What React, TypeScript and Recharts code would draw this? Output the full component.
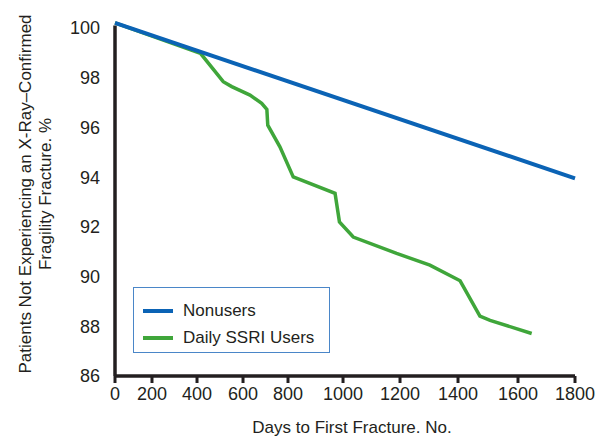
import React from 'react';
import { LineChart, Line, XAxis, YAxis, Legend, Label, ReferenceLine } from 'recharts';

// ---- data ----
const X_TICKS = [0, 200, 400, 600, 800, 1000, 1200, 1400, 1600, 1800];
const Y_TICKS = [86, 88, 90, 92, 94, 96, 98, 100];
const SERIES_NAMES = ['Nonusers', 'Daily SSRI Users'];

const nonusersDays = [0, 1800];
const nonusersPct = [100.2, 93.95];

const ssriDays = [0, 415, 514, 551, 631, 683, 706, 710, 764, 819, 971, 987, 1036, 1188, 1303, 1407, 1473, 1507, 1648];
const ssriPct = [100.2, 98.98, 97.84, 97.64, 97.3, 96.97, 96.72, 96.09, 95.22, 94.01, 93.35, 92.2, 91.59, 90.93, 90.46, 89.83, 88.41, 88.24, 87.71];

const nonusersData = nonusersDays.map((d, i) => ({ day: d, pct: nonusersPct[i] }));
const ssriData = ssriDays.map((d, i) => ({ day: d, pct: ssriPct[i] }));

// ---- axis layout: the original figure's x axis is not evenly spaced ----
const X_TICK_FRACTIONS = [0, 0.0804, 0.1783, 0.2783, 0.3761, 0.4957, 0.6196, 0.7457, 0.8761, 1];

function makePiecewiseScale(): any {
  let domain: number[] = [X_TICKS[0], X_TICKS[X_TICKS.length - 1]];
  let range: number[] = [0, 1];
  const t = X_TICKS;
  const f = X_TICK_FRACTIONS;
  const toFrac = (v: number) => {
    if (v <= t[0]) return f[0] + ((v - t[0]) / (t[1] - t[0])) * (f[1] - f[0]);
    for (let i = 1; i < t.length; i++) {
      if (v <= t[i]) return f[i - 1] + ((v - t[i - 1]) / (t[i] - t[i - 1])) * (f[i] - f[i - 1]);
    }
    const n = t.length - 1;
    return f[n] + ((v - t[n]) / (t[n] - t[n - 1])) * (f[n] - f[n - 1]);
  };
  const fromFrac = (q: number) => {
    for (let i = 1; i < f.length; i++) {
      if (q <= f[i]) return t[i - 1] + ((q - f[i - 1]) / (f[i] - f[i - 1])) * (t[i] - t[i - 1]);
    }
    return t[t.length - 1];
  };
  const scale: any = (v: number) => range[0] + toFrac(Number(v)) * (range[1] - range[0]);
  scale.domain = (d?: number[]) => {
    if (d === undefined) return domain.slice();
    domain = d.slice();
    return scale;
  };
  scale.range = (r?: number[]) => {
    if (r === undefined) return range.slice();
    range = r.slice();
    return scale;
  };
  scale.copy = () => {
    const s = makePiecewiseScale();
    s.domain(domain);
    s.range(range);
    return s;
  };
  scale.ticks = () => X_TICKS.slice();
  scale.tickFormat = () => (v: any) => String(v);
  scale.invert = (px: number) => fromFrac((px - range[0]) / (range[1] - range[0]));
  scale.nice = () => scale;
  scale.clamp = () => scale;
  return scale;
}

const xScale = makePiecewiseScale();

const FONT = '"Liberation Sans", Arial, Helvetica, sans-serif';
const INK = '#231f20';
const BLUE = '#0b63b5';
const GREEN = '#3fa63a';

const YTitle = (props: any) => {
  const vb = props.viewBox || { x: 0, y: 18, width: 115, height: 358 };
  const cy = vb.y + vb.height / 2 - 3;
  const x1 = vb.x + 25;
  const x2 = vb.x + 45;
  return (
    <g fontFamily={FONT} fontSize={17} fill={INK}>
      <text x={x1} y={cy} transform={`rotate(-90, ${x1}, ${cy})`} textAnchor="middle" dominantBaseline="central">
        Patients Not Experiencing an X-Ray–Confirmed
      </text>
      <text x={x2} y={cy} transform={`rotate(-90, ${x2}, ${cy})`} textAnchor="middle" dominantBaseline="central">
        Fragility Fracture. %
      </text>
    </g>
  );
};

const XTitle = (props: any) => {
  const vb = props.viewBox || { x: 115, y: 376, width: 460, height: 63 };
  return (
    <text x={vb.x + vb.width / 2 + 7} y={vb.y + 57} textAnchor="middle" fontFamily={FONT} fontSize={17} fill={INK}>
      Days to First Fracture. No.
    </text>
  );
};

const LegendBox = (props: any) => {
  const payload = [...(props.payload || [])].sort(
    (a: any, b: any) => SERIES_NAMES.indexOf(a.value) - SERIES_NAMES.indexOf(b.value)
  );
  return (
    <div
      style={{
        boxSizing: 'border-box',
        width: 197,
        height: 66,
        border: '1.6px solid #4a86c8',
        background: '#fff',
        padding: '9px 0 0 9px',
        fontFamily: FONT,
        fontSize: 17,
        color: INK,
      }}
    >
      {payload.map((p: any) => (
        <div key={p.value} style={{ display: 'flex', alignItems: 'center', height: 27.5 }}>
          <div style={{ width: 30, height: 4, background: p.color, marginRight: 10 }} />
          <span>{p.value}</span>
        </div>
      ))}
    </div>
  );
};

export default function App() {
  return (
    <div style={{ position: 'absolute', left: 0, top: 0, width: 606, height: 439, background: '#fff' }}>
      <LineChart width={606} height={439} margin={{ top: 18, right: 31, bottom: 0, left: 0 }}>
        <XAxis
          dataKey="day"
          type="number"
          scale={xScale}
          domain={[0, 1800]}
          ticks={X_TICKS}
          interval={0}
          height={63}
          tickSize={7}
          tickMargin={4}
          axisLine={{ stroke: INK, strokeWidth: 3.5 }}
          tickLine={{ stroke: INK, strokeWidth: 3 }}
          tick={{ fill: INK, fontSize: 18, fontFamily: FONT }}
        >
          <Label content={<XTitle />} />
        </XAxis>
        <YAxis
          type="number"
          domain={[86, 100.4]}
          ticks={Y_TICKS}
          interval={0}
          width={115}
          tickSize={10}
          tickMargin={5}
          axisLine={false}
          tickLine={false}
          tick={{ fill: INK, fontSize: 18, fontFamily: FONT }}
        >
          <Label content={<YTitle />} />
        </YAxis>
        <ReferenceLine
          segment={[
            { x: 0, y: 86 },
            { x: 0, y: 100.1 },
          ]}
          stroke={INK}
          strokeWidth={3.5}
        />
        <Legend
          layout="horizontal"
          verticalAlign="middle"
          align="center"
          content={<LegendBox />}
          wrapperStyle={{ left: 133, top: 287, width: 197, height: 66 }}
        />
        <Line
          data={ssriData}
          dataKey="pct"
          name={SERIES_NAMES[1]}
          type="linear"
          stroke={GREEN}
          strokeWidth={3.5}
          dot={false}
          isAnimationActive={false}
        />
        <Line
          data={nonusersData}
          dataKey="pct"
          name={SERIES_NAMES[0]}
          type="linear"
          stroke={BLUE}
          strokeWidth={4}
          dot={false}
          isAnimationActive={false}
        />
      </LineChart>
    </div>
  );
}
